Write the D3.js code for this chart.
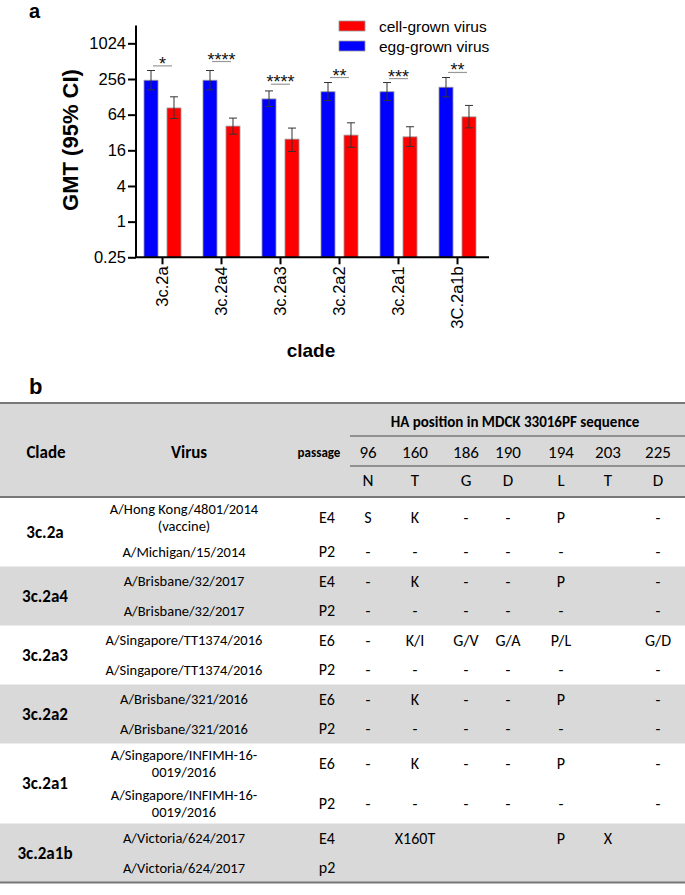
<!DOCTYPE html>
<html>
<head>
<meta charset="utf-8">
<script src="https://cdn.jsdelivr.net/npm/d3@7"></script>
<style>
  body { margin: 0; background: #fff; }
  svg { display: block; }
</style>
</head>
<body>
<div class="chart"></div>
<script>
// panel a data
var clades = ["3c.2a", "3c.2a4", "3c.2a3", "3c.2a2", "3c.2a1", "3C.2a1b"];
var eggGMT = [244, 244, 118, 156, 156, 186];
var eggLo = [168, 168, 88, 111, 111, 128];
var eggHi = [356, 356, 161, 223, 223, 271];
var cellGMT = [83, 41, 24.7, 28.9, 27, 58.7];
var cellLo = [55, 30, 15.3, 18, 18.6, 38.3];
var cellHi = [128, 56, 38, 46.6, 40, 91.6];
var sigLabels = ["*", "****", "****", "**", "***", "**"];
var sigLevel = [426, 505, 209, 271, 260, 330];
var yTicks = [0.25, 1, 4, 16, 64, 256, 1024];
var seriesNames = ["cell-grown virus", "egg-grown virus"];

// panel b data
var positions = ["96", "160", "186", "190", "194", "203", "225"];
var refResidues = ["N", "T", "G", "D", "L", "T", "D"];
var tableClades = ["3c.2a", "3c.2a4", "3c.2a3", "3c.2a2", "3c.2a1", "3c.2a1b"];
var virusNames = [
  "A/Hong Kong/4801/2014\n(vaccine)", "A/Michigan/15/2014",
  "A/Brisbane/32/2017", "A/Brisbane/32/2017",
  "A/Singapore/TT1374/2016", "A/Singapore/TT1374/2016",
  "A/Brisbane/321/2016", "A/Brisbane/321/2016",
  "A/Singapore/INFIMH-16-\n0019/2016", "A/Singapore/INFIMH-16-\n0019/2016",
  "A/Victoria/624/2017", "A/Victoria/624/2017"
];
var passages = ["E4", "P2", "E4", "P2", "E6", "P2", "E6", "P2", "E6", "P2", "E4", "p2"];
var residues = [
  ["S", "K", "-", "-", "P", "", "-"],
  ["-", "-", "-", "-", "-", "", "-"],
  ["-", "K", "-", "-", "P", "", "-"],
  ["-", "-", "-", "-", "-", "", "-"],
  ["-", "K/I", "G/V", "G/A", "P/L", "", "G/D"],
  ["-", "-", "-", "-", "-", "", "-"],
  ["-", "K", "-", "-", "P", "", "-"],
  ["-", "-", "-", "-", "-", "", "-"],
  ["-", "K", "-", "-", "P", "", "-"],
  ["-", "-", "-", "-", "-", "", "-"],
  ["", "X160T", "", "", "P", "X", ""],
  ["", "", "", "", "", "", ""]
];

var width = 685,
    height = 895;

var arial = "'Liberation Sans', Arial, sans-serif";
var calibri = "Carlito, Calibri, Lato, sans-serif";

var svg = d3.select(".chart").append("svg")
    .attr("width", width)
    .attr("height", height);

// ---------- panel a ----------
var x0 = d3.scaleBand()
    .domain(clades)
    .range([133, 487])
    .paddingInner(22 / 59)
    .paddingOuter(11 / 59);

var x1 = d3.scaleBand()
    .domain(["egg", "cell"])
    .range([0, x0.bandwidth()])
    .paddingInner(0.391);

var y = d3.scaleLog()
    .base(2)
    .domain([0.25, 2048])
    .range([257.3, 25.5]);

var color = { egg: "#0000ff", cell: "#ff0000" };

svg.append("text")
    .attr("x", 29)
    .attr("y", 18)
    .attr("font-family", arial)
    .attr("font-weight", "bold")
    .attr("font-size", "20px")
    .text("a");

var groups = svg.append("g")
    .selectAll("g")
    .data(clades)
    .enter()
    .append("g")
    .attr("transform", function(d) { return "translate(" + x0(d) + ",0)"; });

groups.each(function(d, i) {
  var g = d3.select(this);
  var bars = [
    { key: "egg", v: eggGMT[i], lo: eggLo[i], hi: eggHi[i] },
    { key: "cell", v: cellGMT[i], lo: cellLo[i], hi: cellHi[i] }
  ];
  g.selectAll("rect")
      .data(bars)
      .enter()
      .append("rect")
      .attr("x", function(b) { return x1(b.key); })
      .attr("width", x1.bandwidth())
      .attr("y", function(b) { return y(b.v); })
      .attr("height", function(b) { return y(0.25) - y(b.v); })
      .attr("fill", function(b) { return color[b.key]; })
      .attr("stroke", "#9a9a9a")
      .attr("stroke-width", 0.8);

  var err = g.selectAll(".err")
      .data(bars)
      .enter()
      .append("g")
      .attr("class", "err")
      .attr("stroke", "#333")
      .attr("stroke-width", 1);
  err.append("line")
      .attr("x1", function(b) { return x1(b.key) + x1.bandwidth() / 2; })
      .attr("x2", function(b) { return x1(b.key) + x1.bandwidth() / 2; })
      .attr("y1", function(b) { return y(b.hi); })
      .attr("y2", function(b) { return y(b.lo); });
  err.selectAll(".cap")
      .data(function(b) { return [b.hi, b.lo].map(function(v) { return { key: b.key, v: v }; }); })
      .enter()
      .append("line")
      .attr("x1", function(c) { return x1(c.key) + x1.bandwidth() / 2 - 4; })
      .attr("x2", function(c) { return x1(c.key) + x1.bandwidth() / 2 + 4; })
      .attr("y1", function(c) { return y(c.v); })
      .attr("y2", function(c) { return y(c.v); });

  var cx = x0.bandwidth() / 2;
  g.append("line")
      .attr("x1", cx - 9.5)
      .attr("x2", cx + 9.5)
      .attr("y1", y(sigLevel[i]))
      .attr("y2", y(sigLevel[i]))
      .attr("stroke", "#999")
      .attr("stroke-width", 1.2);
  g.append("text")
      .attr("x", cx)
      .attr("y", y(sigLevel[i]) + 4)
      .attr("text-anchor", "middle")
      .attr("font-family", arial)
      .attr("font-size", "18px")
      .attr("fill", "#111")
      .text(sigLabels[i]);
});

// axes
var yAxis = d3.axisLeft(y)
    .tickValues(yTicks)
    .tickSize(8)
    .tickFormat(function(d) { return d < 1 ? "0.25" : d3.format("d")(d); });

svg.append("g")
    .attr("transform", "translate(136,0)")
    .call(yAxis)
    .call(function(g) {
      g.select(".domain").attr("stroke-width", 2).attr("d", "M0," + y(2048) + "V" + y(0.25));
      g.selectAll(".tick line").attr("stroke-width", 2);
      g.selectAll(".tick text")
          .attr("font-family", arial)
          .attr("font-size", "16.5px")
          .attr("fill", "#000")
          .attr("x", -10);
    });

var xAxis = d3.axisBottom(x0)
    .tickSize(7)
    .tickSizeOuter(0);

svg.append("g")
    .attr("transform", "translate(0," + y(0.25) + ")")
    .call(xAxis)
    .call(function(g) {
      g.select(".domain").attr("stroke-width", 2).attr("d", "M136,0H489");
      g.selectAll(".tick line").attr("stroke-width", 2);
      g.selectAll(".tick text")
          .attr("font-family", arial)
          .attr("font-size", "16.5px")
          .attr("fill", "#000")
          .attr("transform", "rotate(-90)")
          .attr("text-anchor", "end")
          .attr("x", -9)
          .attr("y", 0)
          .attr("dy", "0.35em");
    });

svg.append("text")
    .attr("transform", "translate(78,140) rotate(-90)")
    .attr("text-anchor", "middle")
    .attr("font-family", arial)
    .attr("font-weight", "bold")
    .attr("font-size", "22px")
    .text("GMT (95% CI)");

svg.append("text")
    .attr("x", 311)
    .attr("y", 357)
    .attr("text-anchor", "middle")
    .attr("font-family", arial)
    .attr("font-weight", "bold")
    .attr("font-size", "19px")
    .text("clade");

// legend
var legend = svg.append("g")
    .selectAll("g")
    .data(seriesNames)
    .enter()
    .append("g")
    .attr("transform", function(d, i) { return "translate(339," + (21 + i * 20) + ")"; });
legend.append("rect")
    .attr("width", 26)
    .attr("height", 10)
    .attr("fill", function(d, i) { return i === 0 ? color.cell : color.egg; })
    .attr("stroke", "#9a9a9a")
    .attr("stroke-width", 0.8);
legend.append("text")
    .attr("x", 40)
    .attr("y", 10.5)
    .attr("font-family", arial)
    .attr("font-size", "15.5px")
    .text(function(d) { return d; });

// ---------- panel b ----------
svg.append("text")
    .attr("x", 29)
    .attr("y", 394)
    .attr("font-family", arial)
    .attr("font-weight", "bold")
    .attr("font-size", "22px")
    .text("b");

// measured column centres are not perfectly even
var colCentres = [368, 415, 466, 508, 561, 608, 658];
function cx(j) { return colCentres[j]; }

var headTop = 403,
    headBottom = 497,
    singleRow = 29.5,
    doubleRow = 40;

var tb = svg.append("g").attr("font-family", calibri).attr("fill", "#000");

tb.append("rect")
    .attr("x", 0).attr("y", headTop)
    .attr("width", width).attr("height", headBottom - headTop)
    .attr("fill", "#d9d9d9");

// body rows
var rowTops = [], yy = headBottom;
virusNames.forEach(function(v) {
  var h = v.indexOf("\n") >= 0 ? doubleRow : singleRow;
  rowTops.push({ top: yy, h: h });
  yy += h;
});
var tableBottom = yy;

tableClades.forEach(function(c, k) {
  var a = rowTops[2 * k], b = rowTops[2 * k + 1];
  var top = a.top, bot = b.top + b.h;
  if (k % 2 === 1) {
    tb.append("rect")
        .attr("x", 0).attr("y", top)
        .attr("width", width).attr("height", bot - top)
        .attr("fill", "#d9d9d9");
  }
  tb.append("text")
      .attr("x", 45)
      .attr("y", (top + bot) / 2)
      .attr("dy", "0.35em")
      .attr("text-anchor", "middle")
      .attr("font-weight", "bold")
      .attr("font-size", "17px")
      .text(c);
});

virusNames.forEach(function(v, r) {
  var row = rowTops[r];
  var mid = row.top + row.h / 2;
  var lines = v.split("\n");
  tb.append("text")
      .attr("x", 184)
      .attr("y", mid - (lines.length - 1) * 8.5)
      .attr("text-anchor", "middle")
      .attr("font-size", "14.5px")
      .selectAll("tspan")
      .data(lines)
      .enter()
      .append("tspan")
      .attr("x", 184)
      .attr("dy", function(d, i) { return i === 0 ? "0.35em" : "17px"; })
      .text(function(d) { return d; });
  tb.append("text")
      .attr("x", 327)
      .attr("y", mid)
      .attr("dy", "0.35em")
      .attr("text-anchor", "middle")
      .attr("font-size", "16px")
      .text(passages[r]);
  residues[r].forEach(function(s, j) {
    if (!s) return;
    tb.append("text")
        .attr("x", cx(j))
        .attr("y", mid)
        .attr("dy", "0.35em")
        .attr("text-anchor", "middle")
        .attr("font-size", "16px")
        .text(s);
  });
});

// header text
tb.append("text")
    .attr("x", 515)
    .attr("y", 422)
    .attr("dy", "0.35em")
    .attr("text-anchor", "middle")
    .attr("font-weight", "bold")
    .attr("font-size", "15px")
    .text("HA position in MDCK 33016PF sequence");
tb.append("text")
    .attr("x", 46).attr("y", 452).attr("dy", "0.35em")
    .attr("text-anchor", "middle").attr("font-weight", "bold").attr("font-size", "17px")
    .text("Clade");
tb.append("text")
    .attr("x", 189).attr("y", 452).attr("dy", "0.35em")
    .attr("text-anchor", "middle").attr("font-weight", "bold").attr("font-size", "17px")
    .text("Virus");
tb.append("text")
    .attr("x", 319).attr("y", 452).attr("dy", "0.35em")
    .attr("text-anchor", "middle").attr("font-weight", "bold").attr("font-size", "13px")
    .text("passage");
positions.forEach(function(p, j) {
  tb.append("text")
      .attr("x", cx(j)).attr("y", 452).attr("dy", "0.35em")
      .attr("text-anchor", "middle").attr("font-size", "17px")
      .text(p);
  tb.append("text")
      .attr("x", cx(j)).attr("y", 480).attr("dy", "0.35em")
      .attr("text-anchor", "middle").attr("font-size", "17px")
      .text(refResidues[j]);
});

// rules
tb.append("line").attr("x1", 0).attr("x2", width).attr("y1", headTop).attr("y2", headTop)
    .attr("stroke", "#777").attr("stroke-width", 2);
tb.append("line").attr("x1", 350).attr("x2", width).attr("y1", 436).attr("y2", 436)
    .attr("stroke", "#777").attr("stroke-width", 1.5);
tb.append("line").attr("x1", 350).attr("x2", width).attr("y1", 466).attr("y2", 466)
    .attr("stroke", "#777").attr("stroke-width", 1.5);
tb.append("line").attr("x1", 0).attr("x2", width).attr("y1", headBottom).attr("y2", headBottom)
    .attr("stroke", "#777").attr("stroke-width", 2);
tb.append("line").attr("x1", 0).attr("x2", width).attr("y1", tableBottom).attr("y2", tableBottom)
    .attr("stroke", "#777").attr("stroke-width", 2);
</script>
</body>
</html>
